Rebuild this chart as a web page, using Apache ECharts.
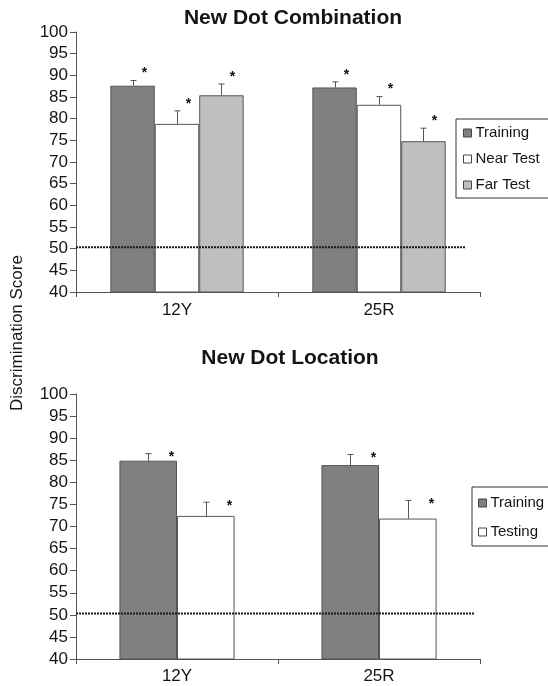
<!DOCTYPE html>
<html>
<head>
<meta charset="utf-8">
<script src="https://cdn.jsdelivr.net/npm/echarts@6/dist/echarts.min.js"></script>
<style>
  html, body { margin: 0; padding: 0; background: #fff; }
  #chart { width: 548px; height: 686px; }
</style>
</head>
<body>
<div id="chart"></div>
<script>
// Stimulus groups on the x axis
const groups = ['12Y', '25R'];
// Score axis tick labels
const scoreTicks = [40, 45, 50, 55, 60, 65, 70, 75, 80, 85, 90, 95, 100];

// New Dot Combination: mean discrimination scores and standard errors
const comboTraining = [87.6, 87.2];
const comboNear = [78.8, 83.2];
const comboFar = [85.4, 74.8];
const comboTrainingErr = [1.2, 1.3];
const comboNearErr = [3.0, 1.9];
const comboFarErr = [2.6, 3.0];

// New Dot Location: mean discrimination scores and standard errors
const locTraining = [84.9, 83.9];
const locTesting = [72.4, 71.8];
const locTrainingErr = [1.6, 2.4];
const locTestingErr = [3.1, 4.1];

// Chance performance reference line
const chanceLevel = 50.3;

const FONT = 'Liberation Sans, Arial, Helvetica, sans-serif';
const TEXT = '#151515';
const AXIS = '#555';
const FILL_DARK = '#808080';
const FILL_WHITE = '#ffffff';
const FILL_LIGHT = '#bfbfbf';

const chart = echarts.init(document.getElementById('chart'), null, { renderer: 'canvas' });

function barSeries(name, values, color, axisIdx, gap) {
  return {
    type: 'bar', name: name, data: values,
    xAxisIndex: axisIdx, yAxisIndex: axisIdx,
    barGap: '0%', barCategoryGap: gap,
    itemStyle: { color: color, borderColor: AXIS, borderWidth: 1 },
    emphasis: { disabled: true },
    z: 2
  };
}

// Error bars (upward only) plus significance asterisks, placed over the grouped bars
function errorSeries(axisIdx, sets, gapFrac, starDx, starDy) {
  const data = [];
  sets.forEach(function (s, k) {
    s.values.forEach(function (v, i) { data.push([i, v, s.errs[i], k]); });
  });
  const n = sets.length;
  return {
    type: 'custom', xAxisIndex: axisIdx, yAxisIndex: axisIdx,
    data: data, encode: { x: 0, y: 1 }, clip: false, z: 5, silent: true,
    renderItem: function (params, api) {
      const cat = api.value(0), mean = api.value(1), err = api.value(2), k = api.value(3);
      const band = api.size([1, 0])[0];
      const groupW = band * (1 - gapFrac);
      const bw = groupW / n;
      const base = api.coord([cat, mean]);
      const cx = Math.round(base[0] - groupW / 2 + (k + 0.5) * bw) + 0.5;
      const yTop = api.coord([cat, mean + err])[1];
      const stroke = { stroke: '#555', lineWidth: 1 };
      return {
        type: 'group',
        children: [
          { type: 'line', shape: { x1: cx, y1: base[1], x2: cx, y2: yTop }, style: stroke },
          { type: 'line', shape: { x1: cx - 3, y1: yTop, x2: cx + 3, y2: yTop }, style: stroke },
          {
            type: 'text', x: cx + starDx, y: yTop + starDy,
            style: { text: '*', font: 'bold 14px ' + FONT, fill: '#111', align: 'center', verticalAlign: 'top' }
          }
        ]
      };
    }
  };
}

// Dotted chance line running from the score axis across the panel
function chanceSeries(axisIdx, endInset) {
  return {
    type: 'custom', xAxisIndex: axisIdx, yAxisIndex: axisIdx,
    data: [[0, chanceLevel]], encode: { x: 0, y: 1 }, clip: false, z: 6, silent: true,
    renderItem: function (params, api) {
      const band = api.size([1, 0])[0];
      const p = api.coord([0, api.value(1)]);
      const x1 = p[0] - band / 2;
      const x2 = x1 + band * groups.length - endInset;
      return {
        type: 'line', shape: { x1: x1, y1: p[1], x2: x2, y2: p[1] },
        style: { stroke: '#1a1a1a', lineWidth: 2, lineDash: [2, 1] }
      };
    }
  };
}

function yAxis(gridIdx) {
  return {
    type: 'value', gridIndex: gridIdx,
    min: scoreTicks[0], max: scoreTicks[scoreTicks.length - 1],
    interval: scoreTicks[1] - scoreTicks[0],
    splitLine: { show: false },
    axisLine: { show: true, lineStyle: { color: AXIS, width: 1 } },
    axisTick: { show: true, length: 6, lineStyle: { color: AXIS } },
    axisLabel: { fontSize: 17, color: TEXT, fontFamily: FONT, margin: 8 }
  };
}

function xAxis(gridIdx, margin) {
  return {
    type: 'category', gridIndex: gridIdx, data: groups,
    axisLine: { show: true, lineStyle: { color: AXIS, width: 1 } },
    axisTick: { show: true, alignWithLabel: false, length: 5, lineStyle: { color: AXIS } },
    axisLabel: { fontSize: 17, color: TEXT, fontFamily: FONT, margin: margin }
  };
}

function legend(left, top, names, gap, padding) {
  return {
    orient: 'vertical', left: left, top: top,
    data: names, icon: 'rect', itemWidth: 8, itemHeight: 8, itemGap: gap,
    padding: padding, selectedMode: false,
    borderColor: '#333', borderWidth: 1, backgroundColor: '#fff',
    itemStyle: { borderColor: '#444', borderWidth: 1 },
    textStyle: { fontSize: 15, color: TEXT, fontFamily: FONT, lineHeight: 16, padding: [0, 0, 0, -1] }
  };
}

const option = {
  animation: false,
  backgroundColor: '#fff',
  title: [
    {
      text: 'New Dot Combination', left: 293, top: 8, textAlign: 'center', padding: 0,
      textStyle: { fontSize: 21, fontWeight: 'bold', color: TEXT, fontFamily: FONT }
    },
    {
      text: 'New Dot Location', left: 290, top: 348, textAlign: 'center', padding: 0,
      textStyle: { fontSize: 21, fontWeight: 'bold', color: TEXT, fontFamily: FONT }
    }
  ],
  graphic: [
    {
      type: 'text', x: 17, y: 333, rotation: Math.PI / 2,
      style: {
        text: 'Discrimination Score', font: '17px ' + FONT, fill: TEXT,
        align: 'center', verticalAlign: 'middle'
      }
    }
  ],
  legend: [
    legend(456, 119, ['Training', 'Near Test', 'Far Test'], 10, [6, 40, 5, 7]),
    legend(472, 487, ['Training', 'Testing'], 13, [8, 40, 6, 6])
  ],
  grid: [
    { left: 76, top: 32, width: 404, height: 260, containLabel: false, outerBoundsMode: 'none' },
    { left: 76, top: 394, width: 404, height: 265, containLabel: false, outerBoundsMode: 'none' }
  ],
  xAxis: [xAxis(0, 10), xAxis(1, 9)],
  yAxis: [yAxis(0), yAxis(1)],
  series: [
    barSeries('Training', comboTraining, FILL_DARK, 0, '34%'),
    barSeries('Near Test', comboNear, FILL_WHITE, 0, '34%'),
    barSeries('Far Test', comboFar, FILL_LIGHT, 0, '34%'),
    errorSeries(0, [
      { values: comboTraining, errs: comboTrainingErr },
      { values: comboNear, errs: comboNearErr },
      { values: comboFar, errs: comboFarErr }
    ], 0.34, 11, -14),
    chanceSeries(0, 14),

    barSeries('Training', locTraining, FILL_DARK, 1, '43%'),
    barSeries('Testing', locTesting, FILL_WHITE, 1, '43%'),
    errorSeries(1, [
      { values: locTraining, errs: locTrainingErr },
      { values: locTesting, errs: locTestingErr }
    ], 0.43, 23, -3),
    chanceSeries(1, 5)
  ]
};

chart.setOption(option);
</script>
</body>
</html>
